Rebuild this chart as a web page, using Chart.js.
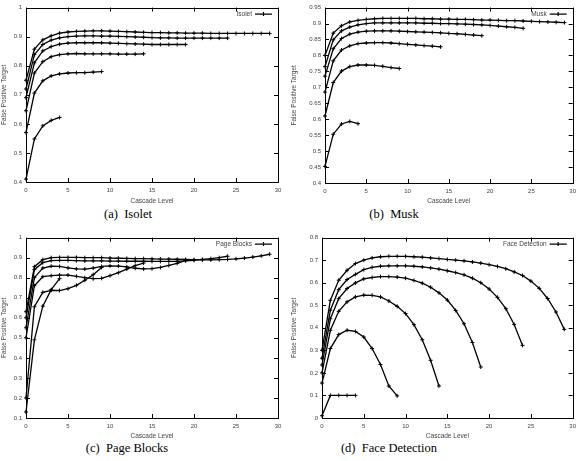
<!DOCTYPE html>
<html lang="en">
<head>
  <meta charset="UTF-8" />
  <title>False Positive Target vs Cascade Level</title>
  <style>
    body {
      margin: 0;
      background: #fff;
      width: 581px;
      height: 461px;
      position: relative;
      overflow: hidden;
    }
    canvas {
      position: absolute;
    }
    .caption {
      position: absolute;
      font-family: "Liberation Serif", "Times New Roman", serif;
      font-size: 12.5px;
      color: #000;
      white-space: pre;
      transform: translate(-50%, -50%);
    }
  </style>
</head>
<body>
  <canvas id="isolet" width="290" height="205" style="left:0;top:0"></canvas>
  <canvas id="musk" width="291" height="205" style="left:290px;top:0"></canvas>
  <canvas id="pageblocks" width="290" height="210" style="left:0;top:230px"></canvas>
  <canvas id="face" width="291" height="210" style="left:290px;top:230px"></canvas>

  <div class="caption" style="left:128px;top:214px">(a)  Isolet</div>
  <div class="caption" style="left:394px;top:214px">(b)  Musk</div>
  <div class="caption" style="left:127px;top:448px">(c)  Page Blocks</div>
  <div class="caption" style="left:389px;top:448px">(d)  Face Detection</div>

  <script src="https://cdn.jsdelivr.net/npm/chart.js"></script>
  <script>
    // x ticks shared by every panel
    const cascadeTicks = [0, 5, 10, 15, 20, 25, 30];

    // (a) Isolet
    const isoletTicks = [0.4, 0.5, 0.6, 0.7, 0.8, 0.9, 1];
    const isoletSeries = [
      [0.41, 0.548, 0.593, 0.612, 0.622],
      [0.57, 0.706, 0.748, 0.765, 0.772, 0.775, 0.776, 0.776, 0.778, 0.78],
      [0.645, 0.775, 0.814, 0.831, 0.838, 0.841, 0.842, 0.841, 0.841, 0.841, 0.841, 0.84, 0.84, 0.84, 0.841],
      [0.69, 0.81, 0.851, 0.866, 0.874, 0.878, 0.879, 0.879, 0.879, 0.879, 0.878, 0.877, 0.876, 0.875, 0.874, 0.873, 0.873, 0.873, 0.873, 0.873],
      [0.72, 0.838, 0.873, 0.888, 0.896, 0.9, 0.902, 0.903, 0.903, 0.902, 0.902, 0.901, 0.9, 0.899, 0.898, 0.897, 0.896, 0.896, 0.895, 0.895, 0.895, 0.895, 0.895, 0.895, 0.895],
      [0.75, 0.857, 0.889, 0.903, 0.912, 0.916, 0.918, 0.919, 0.92, 0.92, 0.919, 0.918, 0.917, 0.916, 0.915, 0.914, 0.914, 0.913, 0.913, 0.912, 0.912, 0.912, 0.911, 0.911, 0.911, 0.911, 0.911, 0.911, 0.911, 0.911]
    ];

    // (b) Musk
    const muskTicks = [0.4, 0.45, 0.5, 0.55, 0.6, 0.65, 0.7, 0.75, 0.8, 0.85, 0.9, 0.95];
    const muskSeries = [
      [0.452, 0.553, 0.585, 0.593, 0.586],
      [0.61, 0.715, 0.751, 0.765, 0.77, 0.77, 0.769, 0.766, 0.762, 0.759],
      [0.685, 0.783, 0.817, 0.83, 0.837, 0.839, 0.84, 0.84, 0.839, 0.837, 0.835, 0.833, 0.831, 0.829, 0.827],
      [0.735, 0.821, 0.853, 0.867, 0.873, 0.876, 0.877, 0.877, 0.877, 0.876, 0.875, 0.874, 0.873, 0.872, 0.871, 0.869, 0.868, 0.866, 0.864, 0.862],
      [0.765, 0.849, 0.877, 0.889, 0.896, 0.9, 0.902, 0.902, 0.902, 0.902, 0.902, 0.902, 0.901, 0.901, 0.9, 0.9, 0.899, 0.898, 0.897, 0.896, 0.894, 0.892, 0.89, 0.888, 0.885],
      [0.8, 0.87, 0.893, 0.905, 0.91, 0.913, 0.915, 0.916, 0.916, 0.916, 0.916, 0.916, 0.915, 0.915, 0.914, 0.914, 0.913, 0.913, 0.912, 0.911, 0.911, 0.91, 0.909, 0.909, 0.908, 0.907, 0.906, 0.905, 0.904, 0.903]
    ];

    // (c) Page Blocks
    const pageTicks = [0.1, 0.2, 0.3, 0.4, 0.5, 0.6, 0.7, 0.8, 0.9, 1];
    const pageSeries = [
      [0.13, 0.49, 0.658, 0.74, 0.795],
      [0.2, 0.655, 0.727, 0.737, 0.736, 0.745, 0.762, 0.787, 0.815, 0.851],
      [0.5, 0.76, 0.805, 0.81, 0.813, 0.813, 0.807, 0.8, 0.795, 0.797, 0.81, 0.825, 0.843, 0.86, 0.873],
      [0.55, 0.8, 0.848, 0.857, 0.856, 0.849, 0.844, 0.843, 0.848, 0.856, 0.859, 0.858, 0.854, 0.847, 0.844, 0.845, 0.851, 0.861, 0.872, 0.886],
      [0.6, 0.84, 0.875, 0.885, 0.886, 0.886, 0.885, 0.884, 0.884, 0.884, 0.883, 0.883, 0.882, 0.882, 0.882, 0.881, 0.881, 0.881, 0.882, 0.884, 0.887, 0.891, 0.895, 0.9, 0.907],
      [0.63, 0.855, 0.89, 0.9, 0.901, 0.901, 0.901, 0.9, 0.9, 0.9, 0.898, 0.897, 0.896, 0.895, 0.895, 0.894, 0.893, 0.893, 0.892, 0.891, 0.89, 0.889, 0.889, 0.89, 0.891, 0.894, 0.898, 0.903, 0.909, 0.917]
    ];

    // (d) Face Detection
    const faceTicks = [0, 0.1, 0.2, 0.3, 0.4, 0.5, 0.6, 0.7, 0.8];
    const faceSeries = [
      [0.01, 0.1, 0.1, 0.1, 0.1],
      [0.155, 0.308, 0.37, 0.389, 0.384, 0.359, 0.308, 0.237, 0.142, 0.098],
      [0.2, 0.389, 0.473, 0.515, 0.537, 0.545, 0.544, 0.537, 0.519, 0.495, 0.463, 0.414, 0.347, 0.256, 0.142],
      [0.235, 0.44, 0.529, 0.574, 0.599, 0.617, 0.623, 0.627, 0.627, 0.625, 0.62, 0.61, 0.598, 0.58, 0.555, 0.523, 0.477, 0.418, 0.335, 0.226],
      [0.265, 0.478, 0.569, 0.614, 0.637, 0.658, 0.668, 0.673, 0.675, 0.675, 0.675, 0.673, 0.67, 0.666, 0.66, 0.653, 0.645, 0.635, 0.62, 0.6, 0.572, 0.535, 0.485, 0.415, 0.322],
      [0.3, 0.522, 0.611, 0.655, 0.685, 0.7, 0.71, 0.715, 0.717, 0.717, 0.717, 0.715, 0.713, 0.71, 0.707, 0.703, 0.7, 0.697, 0.692, 0.687, 0.68, 0.672, 0.662, 0.648, 0.632, 0.607, 0.575, 0.53, 0.47, 0.393]
    ];

    const FONT = '"Liberation Sans", Arial, sans-serif';
    const TEXT = '#444';

    // gnuplot style frame: box, inward ticks on all sides, key in the top right
    const gnuFrame = {
      id: 'gnuFrame',
      afterDraw(chart, args, opts) {
        const { ctx, chartArea: a, scales } = chart;
        ctx.save();
        ctx.strokeStyle = '#000';
        ctx.lineWidth = 1;
        ctx.strokeRect(Math.round(a.left) + 0.5, Math.round(a.top) + 0.5,
          Math.round(a.right - a.left), Math.round(a.bottom - a.top));
        ctx.beginPath();
        scales.x.ticks.forEach(t => {
          const px = Math.round(scales.x.getPixelForValue(t.value)) + 0.5;
          ctx.moveTo(px, a.bottom); ctx.lineTo(px, a.bottom - 4);
          ctx.moveTo(px, a.top); ctx.lineTo(px, a.top + 4);
        });
        scales.y.ticks.forEach(t => {
          const py = Math.round(scales.y.getPixelForValue(t.value)) + 0.5;
          ctx.moveTo(a.left, py); ctx.lineTo(a.left + 4, py);
          ctx.moveTo(a.right, py); ctx.lineTo(a.right - 4, py);
        });
        ctx.stroke();

        // key
        const ky = a.top + 6.5;
        ctx.fillStyle = TEXT;
        ctx.font = '6.5px ' + FONT;
        ctx.textAlign = 'right';
        ctx.textBaseline = 'middle';
        ctx.fillText(opts.text, a.right - 26, ky);
        ctx.lineWidth = 1.2;
        ctx.beginPath();
        ctx.moveTo(a.right - 23, ky); ctx.lineTo(a.right - 6, ky);
        const mx = a.right - 14.5;
        ctx.moveTo(mx - 2, ky); ctx.lineTo(mx + 2, ky);
        ctx.moveTo(mx, ky - 2); ctx.lineTo(mx, ky + 2);
        ctx.stroke();
        ctx.restore();
      }
    };

    function makePanel(id, series, yTicks, keyText, yWidth, xHeight, padding) {
      const datasets = series.map(vals => ({
        data: vals.map((v, i) => ({ x: i, y: v })),
        borderColor: '#000',
        backgroundColor: '#000',
        borderWidth: 1.3,
        pointStyle: 'cross',
        pointRadius: 2,
        pointBorderWidth: 1,
        tension: 0,
        clip: false
      }));

      return new Chart(document.getElementById(id), {
        type: 'line',
        data: { datasets },
        plugins: [gnuFrame],
        options: {
          responsive: false,
          animation: false,
          devicePixelRatio: 1,
          layout: { padding },
          plugins: {
            legend: { display: false },
            tooltip: { enabled: false },
            gnuFrame: { text: keyText }
          },
          scales: {
            x: {
              type: 'linear',
              min: 0,
              max: 30,
              afterBuildTicks: s => { s.ticks = cascadeTicks.map(v => ({ value: v })); },
              afterFit: s => { s.height = xHeight; },
              grid: { display: false, drawTicks: false },
              border: { display: false },
              ticks: { font: { size: 6, family: FONT }, color: TEXT, padding: 5, maxRotation: 0 },
              title: {
                display: true,
                text: 'Cascade Level',
                font: { size: 6.5, family: FONT },
                color: TEXT,
                padding: { top: 1, bottom: 0 }
              }
            },
            y: {
              type: 'linear',
              min: yTicks[0],
              max: yTicks[yTicks.length - 1],
              afterBuildTicks: s => { s.ticks = yTicks.map(v => ({ value: v })); },
              afterFit: s => { s.width = yWidth; },
              grid: { display: false, drawTicks: false },
              border: { display: false },
              ticks: {
                font: { size: 6, family: FONT },
                color: TEXT,
                padding: 4,
                callback: v => String(Math.round(v * 100) / 100)
              },
              title: {
                display: true,
                text: 'False Positive Target',
                font: { size: 6.5, family: FONT },
                color: TEXT,
                padding: { top: 0, bottom: 0 }
              }
            }
          }
        }
      });
    }

    makePanel('isolet', isoletSeries, isoletTicks, 'Isolet', 26, 23, { top: 2, right: 12, left: 0, bottom: 0 });
    makePanel('musk', muskSeries, muskTicks, 'Musk', 35, 22, { top: 1, right: 8, left: 0, bottom: 0 });
    makePanel('pageblocks', pageSeries, pageTicks, 'Page Blocks', 26, 22, { top: 7, right: 12, left: 0, bottom: 0 });
    makePanel('face', faceSeries, faceTicks, 'Face Detection', 32, 22, { top: 7, right: 8, left: 0, bottom: 0 });
  </script>
</body>
</html>
